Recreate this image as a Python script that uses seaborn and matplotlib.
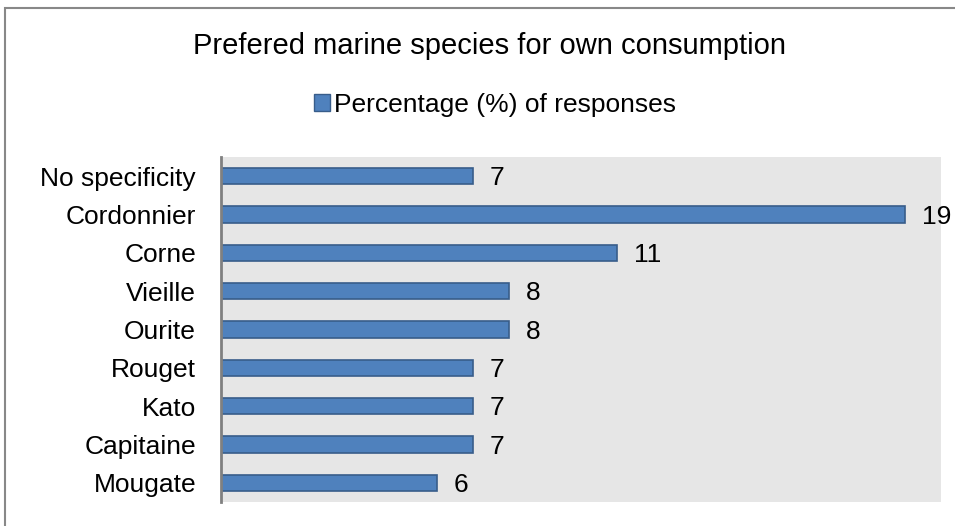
import matplotlib
matplotlib.use('Agg')
import matplotlib.pyplot as plt
from matplotlib.patches import Patch, Rectangle
import seaborn as sns

# Data
species = ['No specificity', 'Cordonnier', 'Corne', 'Vieille', 'Ourite',
           'Rouget', 'Kato', 'Capitaine', 'Mougate']
percent = [7, 19, 11, 8, 8, 7, 7, 7, 6]
series_name = 'Percentage (%) of responses'
title = 'Prefered marine species for own consumption'

sns.set_theme(style='white')
plt.rcParams['font.family'] = ['Liberation Sans', 'DejaVu Sans']
plt.rcParams['text.color'] = 'black'

fig = plt.figure(figsize=(9.55, 5.26), dpi=100)
ax = fig.add_axes([221 / 955, 1 - 502 / 526, 720 / 955, 345 / 526])

bar_color = '#4F81BD'
edge_color = '#385D8A'

sns.barplot(x=percent, y=species, orient='h', color=bar_color, saturation=1,
            width=0.43, edgecolor=edge_color, linewidth=1.2, ax=ax)

ax.set_facecolor('#E6E6E6')
ax.set_xlim(0, 20)
ax.set_ylim(8.5, -0.5)
ax.set_xticks([])
ax.set_xlabel('')
ax.set_ylabel('')
ax.tick_params(axis='y', length=0, pad=18, labelsize=19, labelcolor='black')
for side in ['top', 'right', 'bottom']:
    ax.spines[side].set_visible(False)
ax.spines['left'].set_color('#808080')
ax.spines['left'].set_linewidth(2)

for cont in ax.containers:
    labels = ax.bar_label(cont, fmt='%d', padding=12, fontsize=19, color='black')
    for t in labels:
        t.set_va('center')
        t.set_y(-1.5)

# title and legend
fig.text(0.5126, 1 - 46 / 526, title, ha='center', va='center',
         fontsize=21, color='black')
leg = fig.legend(handles=[Patch(facecolor=bar_color, edgecolor=edge_color, linewidth=1)],
                 labels=[series_name], loc='center', bbox_to_anchor=(0.518, 1 - 105 / 526),
                 frameon=False, fontsize=19, handlelength=0.6, handleheight=0.6,
                 handletextpad=0.15, borderpad=0)
for t in leg.get_texts():
    t.set_color('black')

# outer chart border (clipped on right and bottom like the source)
fig.patches.append(Rectangle((5 / 955, -0.05), 1.1, 1 - 8 / 526 + 0.05,
                             transform=fig.transFigure, fill=False,
                             edgecolor='#888888', linewidth=1.5))

fig.savefig('out.png', dpi=100)
